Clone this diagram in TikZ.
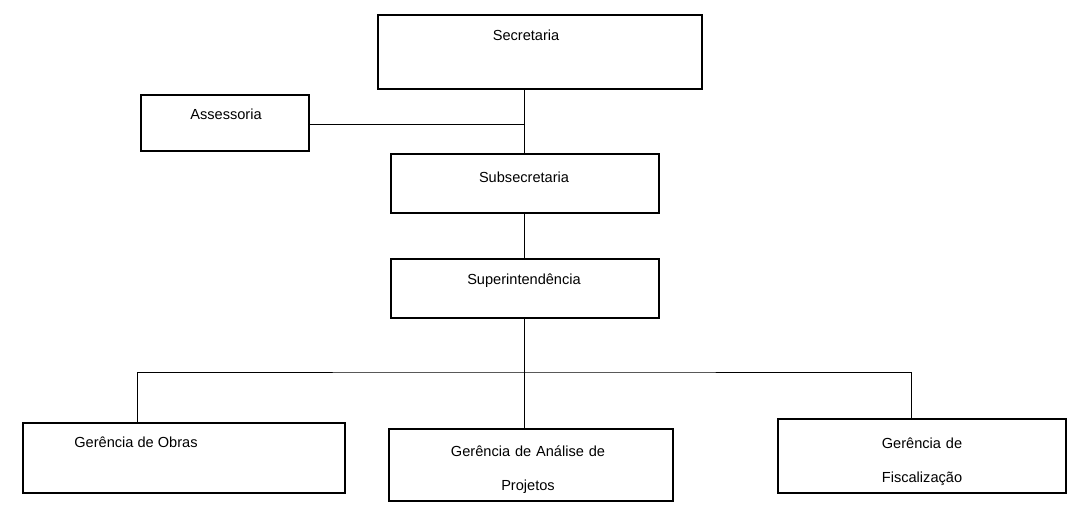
\documentclass[tikz,border=0pt]{standalone}
\usepackage{fontspec}
\setmainfont{Liberation Sans}
\usetikzlibrary{positioning}

\begin{document}
\begin{tikzpicture}[x=0.02cm, y=-0.02cm,
  box/.style={draw, line width=0.9pt, anchor=north west, inner sep=0pt},
  txt/.style={font=\fontsize{8.3pt}{10pt}\selectfont, anchor=north, align=center},
  link/.style={line width=0.5pt}]
\useasboundingbox (0,0) rectangle (1081,510);

% boxes
\node (sec) [box, minimum width=324*0.02cm, minimum height=74*0.02cm] at (377,14) {};
\node (ass) [box, minimum width=168*0.02cm, minimum height=56*0.02cm] at (140,94) {};
\node (sub) [box, minimum width=268*0.02cm, minimum height=59*0.02cm] at (390,153) {};
\node (sup) [box, minimum width=268*0.02cm, minimum height=59*0.02cm] at (390,258) {};
\node (obr) [box, minimum width=322*0.02cm, minimum height=70*0.02cm] at (22,422) {};
\node (ana) [box, minimum width=284*0.02cm, minimum height=72*0.02cm] at (388,428) {};
\node (fis) [box, minimum width=288*0.02cm, minimum height=74*0.02cm] at (777,418) {};

% texts
\node[txt] at (526,24) {Secretaria};
\node[txt] at (226,103) {Assessoria};
\node[txt] at (524,166) {Subsecretaria};
\node[txt] at (524,268) {Superintendência};
\node[txt] at (136,431) {Gerência de Obras};
\node[txt, text width=6cm, font=\fontsize{8.3pt}{19pt}\selectfont] at (528,440) {Gerência de Análise de\\Projetos};
\node[txt, text width=6cm, font=\fontsize{8.3pt}{19pt}\selectfont] at (922,432) {Gerência de\\Fiscalização};

% connectors
\coordinate (ja) at (524,124);
\coordinate (bus) at (524,372);
\draw[link] (sec.south -| bus) -- (sub.north -| bus);
\draw[link] (ja -| ass.east) -- (ja);
\draw[link] (sub.south -| bus) -- (sup.north -| bus);
\draw[link] (sup.south -| bus) -- (ana.north -| bus);
\draw[link] (obr.north -| 137,0) |- (bus) -| (fis.north -| 911,0);
\end{tikzpicture}
\end{document}
